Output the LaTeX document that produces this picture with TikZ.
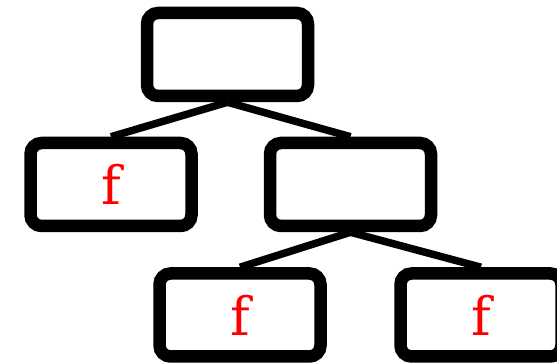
\documentclass[tikz,border=0pt]{standalone}
\usepackage{fontspec}
\newfontfamily\ffont{DejaVu Serif}
\begin{document}
\begin{tikzpicture}[x=1pt,y=1pt,
  box/.style={draw=black,line width=12.5pt,rounded corners=11pt,fill=white,
    minimum width=161pt,minimum height=83pt,inner sep=0pt,
    font=\ffont\fontsize{53}{53}\selectfont,text=red},
  conn/.style={line width=7.5pt,draw=black}]
\useasboundingbox (0,0) rectangle (557,363);
\begin{scope}
\clip (0,0) rectangle (557,363);
\node[box] (top) at (227.5,308.5) {};
\node[box] (L) at (111,178.5) {f};
\node[box] (R) at (350.5,178.5) {};
\node[box] (RL) at (240,48) {f};
\node[box] (RR) at (481,48) {f};
\draw[conn] (top.south) -- (L.north);
\draw[conn] (top.south) -- (R.north);
\draw[conn] (R.south) -- (RL.north);
\draw[conn] (R.south) -- (RR.north);
\end{scope}
\end{tikzpicture}
\end{document}
